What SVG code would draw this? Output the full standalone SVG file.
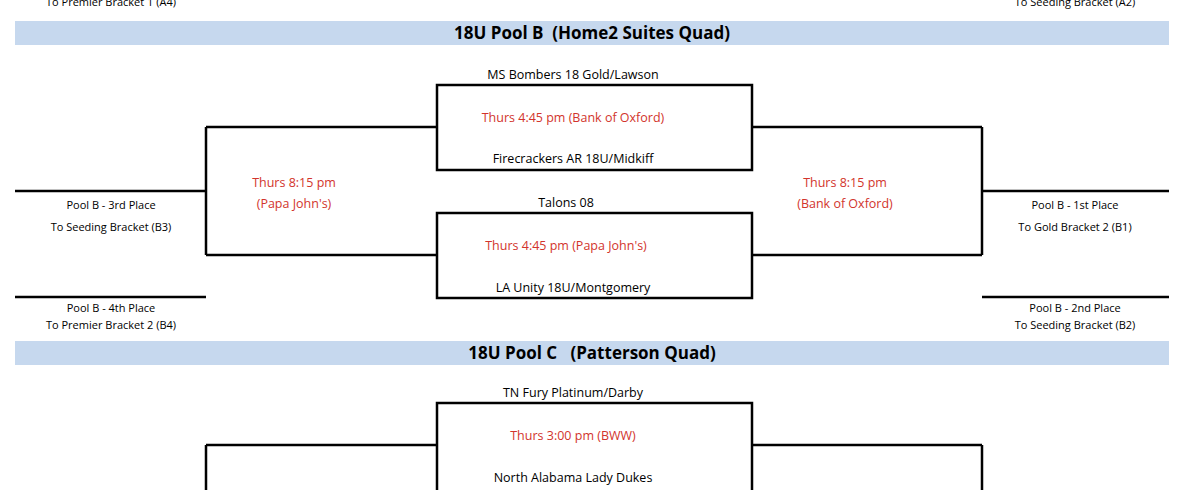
<svg xmlns="http://www.w3.org/2000/svg" width="1200" height="490" viewBox="0 0 1200 490">
<style>
.t{font-family:"Open Sans","Liberation Sans",sans-serif;font-size:12.5px;fill:#000;text-anchor:middle}
.s{font-family:"Open Sans","Liberation Sans",sans-serif;font-size:11px;fill:#000;text-anchor:middle}
.r{font-family:"Open Sans","Liberation Sans",sans-serif;font-size:12.5px;fill:#d2342c;text-anchor:middle}
.h{font-family:"Open Sans","Liberation Sans",sans-serif;font-size:17px;font-weight:bold;fill:#000;text-anchor:middle}
.band{fill:#c6d8ee}
.ln{stroke:#000;stroke-width:2.5;fill:none}
</style>
<rect width="1200" height="490" fill="#fff"/>
<text class="s" x="111" y="6">To Premier Bracket 1 (A4)</text>
<text class="s" x="1075" y="6">To Seeding Bracket (A2)</text>
<g id="bandB"><rect class="band" x="15" y="21" width="1154" height="24"/><text class="h" x="592" y="39" xml:space="preserve">18U Pool B  (Home2 Suites Quad)</text></g>
<g id="bandC"><rect class="band" x="15" y="341" width="1154" height="24"/><text class="h" x="592" y="359" xml:space="preserve">18U Pool C   (Patterson Quad)</text></g>
<g id="connectors">
<path class="ln" d="M206,127H437M206,255H437M206,127V255M15,191H206M15,297H206"/>
<path class="ln" d="M752,127H982M752,255H982M982,127V255M982,191H1169M982,297H1169"/>
<path class="ln" d="M206,445H437M206,445V490M752,445H982M982,445V490"/>
</g>
<g id="game1"><rect class="ln" x="437" y="85" width="315" height="85"/>
<text class="t" x="573" y="79">MS Bombers 18 Gold/Lawson</text>
<text class="r" x="573" y="122">Thurs 4:45 pm (Bank of Oxford)</text>
<text class="t" x="573" y="163">Firecrackers AR 18U/Midkiff</text></g>
<g id="game2"><rect class="ln" x="437" y="213" width="315" height="85"/>
<text class="t" x="566" y="207">Talons 08</text>
<text class="r" x="566" y="250">Thurs 4:45 pm (Papa John's)</text>
<text class="t" x="573" y="292">LA Unity 18U/Montgomery</text></g>
<g id="game3"><text class="r" x="294" y="187">Thurs 8:15 pm</text><text class="r" x="294" y="208">(Papa John's)</text></g>
<g id="game4"><text class="r" x="845" y="187">Thurs 8:15 pm</text><text class="r" x="845" y="208">(Bank of Oxford)</text></g>
<g id="out3"><text class="s" x="111" y="209">Pool B - 3rd Place</text><text class="s" x="111" y="231">To Seeding Bracket (B3)</text></g>
<g id="out4"><text class="s" x="111" y="312">Pool B - 4th Place</text><text class="s" x="111" y="329">To Premier Bracket 2 (B4)</text></g>
<g id="out1"><text class="s" x="1075" y="209">Pool B - 1st Place</text><text class="s" x="1075" y="231">To Gold Bracket 2 (B1)</text></g>
<g id="out2"><text class="s" x="1075" y="312">Pool B - 2nd Place</text><text class="s" x="1075" y="329">To Seeding Bracket (B2)</text></g>
<g id="game5"><rect class="ln" x="437" y="403" width="315" height="100"/>
<text class="t" x="573" y="397">TN Fury Platinum/Darby</text>
<text class="r" x="573" y="440">Thurs 3:00 pm (BWW)</text>
<text class="t" x="573" y="482">North Alabama Lady Dukes</text></g>
</svg>
